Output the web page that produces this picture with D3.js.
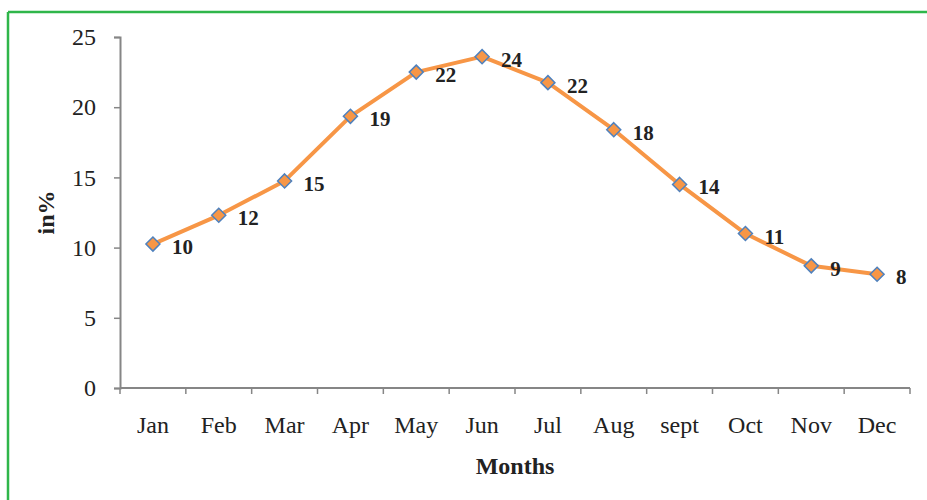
<!DOCTYPE html>
<html>
<head>
<meta charset="utf-8">
<script src="https://cdn.jsdelivr.net/npm/d3@7"></script>
<style>
  body { margin: 0; background: #fff; }
  svg { display: block; }
</style>
</head>
<body>
<div id="chart"></div>
<script>
// monthly share, in %
const months = ["Jan", "Feb", "Mar", "Apr", "May", "Jun", "Jul", "Aug", "sept", "Oct", "Nov", "Dec"];
const values = [10.25, 12.3, 14.75, 19.35, 22.5, 23.6, 21.75, 18.4, 14.5, 11.0, 8.7, 8.1];
const labels = ["10", "12", "15", "19", "22", "24", "22", "18", "14", "11", "9", "8"];
const yTicks = [0, 5, 10, 15, 20, 25];

const width = 927, height = 500;
const margin = { top: 37, right: 17, bottom: 112, left: 120 };

const svg = d3.select("#chart").append("svg")
    .attr("width", width)
    .attr("height", height);

// green frame (left + top edges visible)
svg.append("line").attr("x1", 8).attr("x2", 8).attr("y1", 12).attr("y2", height)
    .attr("stroke", "#2fb64a").attr("stroke-width", 2.5);
svg.append("line").attr("x1", 8).attr("x2", width).attr("y1", 12).attr("y2", 12)
    .attr("stroke", "#2fb64a").attr("stroke-width", 2.5);

const x = d3.scaleBand()
    .domain(months)
    .range([margin.left, width - margin.right]);

const y = d3.scaleLinear()
    .domain([0, 25])
    .range([height - margin.bottom, margin.top]);

const axisColor = "#868686";
const font = "'Liberation Serif', 'Times New Roman', serif";

// y axis
const yAxis = svg.append("g")
    .attr("transform", `translate(${margin.left},0)`)
    .call(d3.axisLeft(y).tickValues(yTicks).tickSize(6).tickPadding(18));
yAxis.select(".domain").attr("stroke", axisColor).attr("stroke-width", 2);
yAxis.selectAll(".tick line").attr("stroke", axisColor).attr("stroke-width", 1.5);
yAxis.selectAll(".tick text")
    .attr("font-family", font).attr("font-size", 24).attr("fill", "#222");

// x axis: ticks at band boundaries
const xAxis = svg.append("g")
    .attr("transform", `translate(0,${y(0)})`);
xAxis.append("line")
    .attr("x1", margin.left).attr("x2", width - margin.right)
    .attr("stroke", axisColor).attr("stroke-width", 2);
const bounds = months.map(m => x(m)).concat([x.range()[1]]);
xAxis.selectAll(".xt").data(bounds).enter().append("line")
    .attr("x1", d => d).attr("x2", d => d)
    .attr("y1", 0).attr("y2", 6)
    .attr("stroke", axisColor).attr("stroke-width", 1.5);
xAxis.selectAll(".xl").data(months).enter().append("text")
    .attr("x", d => x(d) + x.bandwidth() / 2)
    .attr("y", 45)
    .attr("text-anchor", "middle")
    .attr("font-family", font).attr("font-size", 24).attr("fill", "#222")
    .text(d => d);

// axis titles
svg.append("text")
    .attr("x", (margin.left + width - margin.right) / 2)
    .attr("y", 474)
    .attr("text-anchor", "middle")
    .attr("font-family", font).attr("font-size", 24).attr("font-weight", "bold").attr("fill", "#222")
    .text("Months");
svg.append("text")
    .attr("transform", `translate(54,${(y(0) + y(25)) / 2}) rotate(-90)`)
    .attr("text-anchor", "middle")
    .attr("font-family", font).attr("font-size", 24).attr("font-weight", "bold").attr("fill", "#222")
    .text("in%");

// line
const pts = months.map((m, i) => ({ m, v: values[i], lab: labels[i] }));
const line = d3.line()
    .x(d => x(d.m) + x.bandwidth() / 2)
    .y(d => y(d.v));
svg.append("path")
    .datum(pts)
    .attr("d", line)
    .attr("fill", "none")
    .attr("stroke", "#f79646")
    .attr("stroke-width", 4)
    .attr("stroke-linejoin", "round");

// diamond markers
svg.selectAll(".mk").data(pts).enter().append("path")
    .attr("transform", d => `translate(${x(d.m) + x.bandwidth() / 2},${y(d.v)})`)
    .attr("d", d3.symbol().type(d3.symbolDiamond2).size(125))
    .attr("fill", "#f79646")
    .attr("stroke", "#4f81bd")
    .attr("stroke-width", 1.5);

// data labels
svg.selectAll(".dl").data(pts).enter().append("text")
    .attr("x", d => x(d.m) + x.bandwidth() / 2 + 19)
    .attr("y", d => y(d.v) + 10)
    .attr("font-family", font).attr("font-size", 21).attr("font-weight", "bold").attr("fill", "#222")
    .text(d => d.lab);
</script>
</body>
</html>
